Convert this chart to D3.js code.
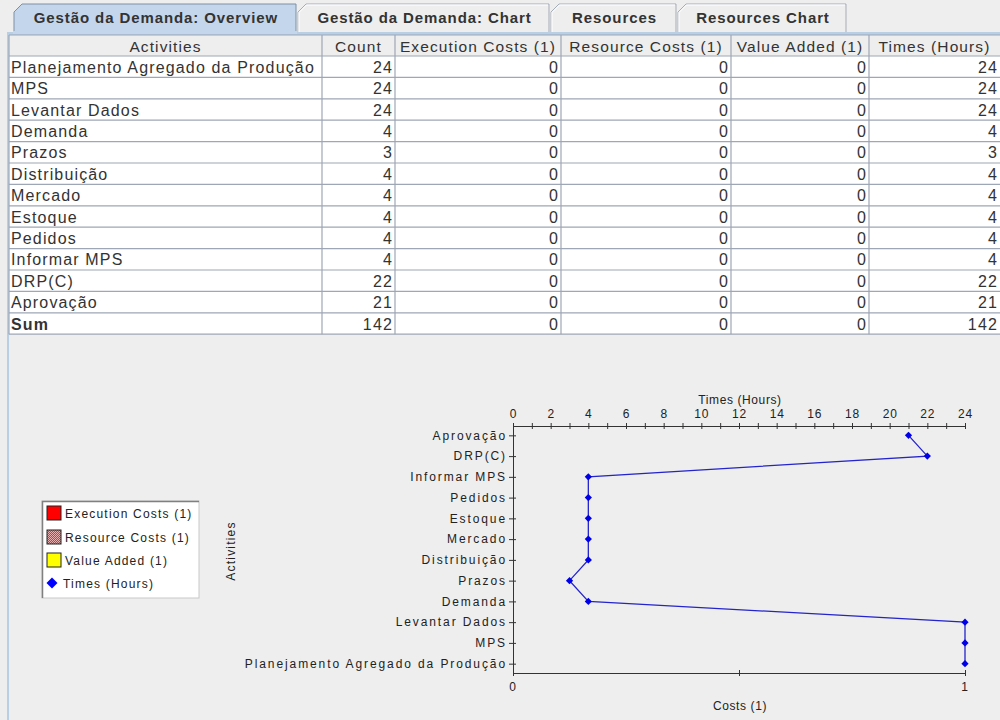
<!DOCTYPE html>
<html>
<head>
<meta charset="utf-8">
<script src="https://cdn.jsdelivr.net/npm/d3@7"></script>
<style>
  body { margin: 0; background: #eeeeee; }
  svg { display: block; }
</style>
</head>
<body>
<svg id="chart" width="1000" height="720"></svg>
<script>
// data
const tabs = ["Gestão da Demanda: Overview", "Gestão da Demanda: Chart", "Resources", "Resources Chart"];
const columns = ["Activities", "Count", "Execution Costs (1)", "Resource Costs (1)", "Value Added (1)", "Times (Hours)"];
const activities = ["Planejamento Agregado da Produção", "MPS", "Levantar Dados", "Demanda", "Prazos",
    "Distribuição", "Mercado", "Estoque", "Pedidos", "Informar MPS", "DRP(C)", "Aprovação"];
const counts = [24, 24, 24, 4, 3, 4, 4, 4, 4, 4, 22, 21];
const execCosts = [0, 0, 0, 0, 0, 0, 0, 0, 0, 0, 0, 0];
const resourceCosts = [0, 0, 0, 0, 0, 0, 0, 0, 0, 0, 0, 0];
const valueAdded = [0, 0, 0, 0, 0, 0, 0, 0, 0, 0, 0, 0];
const times = [24, 24, 24, 4, 3, 4, 4, 4, 4, 4, 22, 21];
const timeTicks = [0, 1, 2, 3, 4, 5, 6, 7, 8, 9, 10, 11, 12, 13, 14, 15, 16, 17, 18, 19, 20, 21, 22, 23, 24];
const timeLabels = [0, 2, 4, 6, 8, 10, 12, 14, 16, 18, 20, 22, 24];
const costTicks = [0, 0.5, 1];
const costLabels = [0, 1];
const legendItems = ["Execution Costs (1)", "Resource Costs (1)", "Value Added (1)", "Times (Hours)"];

const font = "'Liberation Sans', Arial, sans-serif";
const svg = d3.select("#chart");

// patterned fill for resource costs
const defs = svg.append("defs");
const pat = defs.append("pattern").attr("id", "stipple")
    .attr("width", 2).attr("height", 2).attr("patternUnits", "userSpaceOnUse");
pat.append("rect").attr("width", 2).attr("height", 2).attr("fill", "#e8b0b0");
pat.append("rect").attr("width", 1).attr("height", 1).attr("fill", "#b04848");
pat.append("rect").attr("x", 1).attr("y", 1).attr("width", 1).attr("height", 1).attr("fill", "#b04848");

svg.append("rect").attr("width", 1000).attr("height", 720).attr("fill", "#eeeeee");

// ---- tabs ----
const tabX = [14, 298, 551, 678];
const tabW = [282, 251, 125, 168];
const tabG = svg.append("g");
tabs.forEach((t, i) => {
    const x0 = tabX[i], x1 = tabX[i] + tabW[i];
    const sel = i === 0;
    tabG.append("path")
        .attr("d", `M${x0},33 V12 L${x0 + 8},4 H${x1} V33`)
        .attr("fill", sel ? "#c4d6ec" : "#eeeeee")
        .attr("stroke", sel ? "#7d8fa6" : "#a5adb8")
        .attr("stroke-width", 1);
    if (!sel) {
        tabG.append("path")
            .attr("d", `M${x0 + 1},32 V12.5 L${x0 + 8.5},5 H${x1 - 1}`)
            .attr("fill", "none").attr("stroke", "#ffffff");
    }
    tabG.append("text")
        .attr("x", x0 + tabW[i] / 2 + 1).attr("y", 23)
        .attr("text-anchor", "middle")
        .attr("font-family", font).attr("font-size", 15).attr("font-weight", "bold")
        .attr("letter-spacing", "0.9px")
        .attr("fill", "#333333")
        .text(t);
});
// content border under tabs and down the left side
svg.append("rect").attr("x", 7).attr("y", 32).attr("width", 993).attr("height", 3).attr("fill", "#b8cfe5");
svg.append("rect").attr("x", 13).attr("y", 31).attr("width", 284).attr("height", 3).attr("fill", "#c4d6ec");
svg.append("rect").attr("x", 7).attr("y", 32).attr("width", 2).attr("height", 688).attr("fill", "#b8cfe5");

// ---- table ----
const colX = [9, 322, 395, 561, 731, 869, 1000];
const headerY = 35, headerH = 21, rowH = 21.4;
const rows = activities.map((a, i) => [a, counts[i], execCosts[i], resourceCosts[i], valueAdded[i], times[i]]);
rows.push(["Sum", d3.sum(counts), d3.sum(execCosts), d3.sum(resourceCosts), d3.sum(valueAdded), d3.sum(times)]);

const rowY = d3.scaleBand()
    .domain(d3.range(rows.length))
    .range([headerY + headerH, headerY + headerH + rowH * rows.length]);

const table = svg.append("g").attr("font-family", font).attr("font-size", 16).attr("fill", "#333333");
table.append("rect").attr("x", colX[0]).attr("y", headerY)
    .attr("width", 1000 - colX[0]).attr("height", headerH).attr("fill", "#eeeeee");
table.append("rect").attr("x", colX[0]).attr("y", rowY(0))
    .attr("width", 1000 - colX[0]).attr("height", rowH * rows.length).attr("fill", "#ffffff");

const gridColor = "#9ea7b5";
// horizontal lines
const hLines = [headerY].concat(d3.range(rows.length + 1).map(i => headerY + headerH + i * rowH));
table.selectAll("line.h").data(hLines).join("line").attr("class", "h")
    .attr("x1", colX[0]).attr("x2", 1000).attr("y1", d => d).attr("y2", d => d)
    .attr("stroke", gridColor).attr("stroke-width", 1.2);
// vertical lines
table.selectAll("line.v").data(colX.slice(0, -1)).join("line").attr("class", "v")
    .attr("x1", d => d).attr("x2", d => d)
    .attr("y1", headerY).attr("y2", headerY + headerH + rowH * rows.length)
    .attr("stroke", gridColor).attr("stroke-width", 1.2);

// header texts
table.selectAll("text.head").data(columns).join("text").attr("class", "head")
    .attr("x", (d, j) => (colX[j] + colX[j + 1]) / 2)
    .attr("y", headerY + headerH / 2 + 6)
    .attr("text-anchor", "middle")
    .attr("font-size", 15.5)
    .attr("letter-spacing", "1.1px")
    .text(d => d);

// body
const rowG = table.selectAll("g.row").data(rows).join("g").attr("class", "row")
    .attr("transform", (d, i) => `translate(0,${rowY(i) + rowH / 2 + 6})`);
rowG.selectAll("text").data((d, i) => d.map(v => ({ v, last: i === rows.length - 1 }))).join("text")
    .attr("x", (d, j) => j === 0 ? colX[0] + 2 : colX[j + 1] - 2)
    .attr("text-anchor", (d, j) => j === 0 ? "start" : "end")
    .attr("font-weight", (d, j) => d.last && j === 0 ? "bold" : null)
    .attr("letter-spacing", "1.15px")
    .text(d => d.v);

// ---- chart ----
const x = d3.scaleLinear().domain([0, 24]).range([513, 965]);
const xc = d3.scaleLinear().domain([0, 1]).range([513, 965]);
const y = d3.scalePoint().domain(activities.slice().reverse()).range([426, 673]).padding(0.45);
const axisFont = g => g.attr("font-family", font).attr("font-size", 12)
    .call(g => g.selectAll("text").attr("fill", "#222").attr("letter-spacing", "1.9px"))
    .call(g => g.selectAll("line,path").attr("stroke", "#333"));

// cost bars (all zero)
const band = 20.7 / 4;
const costSeries = [execCosts, resourceCosts, valueAdded];
const costFill = ["#ff0000", "url(#stipple)", "#ffff00"];
const bars = svg.append("g");
costSeries.forEach((s, k) => {
    bars.selectAll("rect.s" + k).data(activities).join("rect").attr("class", "s" + k)
        .attr("x", xc(0))
        .attr("y", d => y(d) - 1.5 * band + k * band)
        .attr("width", (d, i) => xc(s[i]) - xc(0))
        .attr("height", band)
        .attr("fill", costFill[k]).attr("stroke", "none");
});

// top axis: times
svg.append("g").attr("transform", "translate(0,426)")
    .call(d3.axisTop(x).tickValues(timeTicks).tickSize(3).tickSizeOuter(0).tickPadding(5)
        .tickFormat(d => timeLabels.includes(d) ? d : ""))
    .call(axisFont)
    .call(g => g.selectAll(".tick text").attr("letter-spacing", "0.8px"))
    .call(g => g.selectAll(".tick line").attr("y1", 3));

// left axis: activities
svg.append("g").attr("transform", "translate(513,0)")
    .call(d3.axisLeft(y).tickSize(4).tickSizeOuter(0).tickPadding(2))
    .call(axisFont)
    .call(g => g.selectAll(".tick line").attr("x1", 3));

// bottom axis: costs
svg.append("g").attr("transform", "translate(0,673)")
    .call(d3.axisBottom(xc).tickValues(costTicks).tickSize(3).tickSizeOuter(0).tickPadding(6)
        .tickFormat(d => costLabels.includes(d) ? d : ""))
    .call(axisFont)
    .call(g => g.selectAll(".tick line").attr("y1", -3));

// axis titles
const title = (txt, tx, ty, rot) => svg.append("text")
    .attr("transform", `translate(${tx},${ty})` + (rot ? " rotate(-90)" : ""))
    .attr("text-anchor", "middle")
    .attr("font-family", font).attr("font-size", 12)
    .attr("letter-spacing", rot ? "1.2px" : "0.6px")
    .attr("fill", "#222")
    .text(txt);
title("Times (Hours)", 740, 404, false);
title("Costs (1)", 740, 710, false);
title("Activities", 235, 551, true);

// times line
const pts = activities.map((a, i) => ({ name: a, t: times[i] })).reverse();
svg.append("path").datum(pts)
    .attr("fill", "none").attr("stroke", "#2424cc").attr("stroke-width", 1.3)
    .attr("d", d3.line().x(d => x(d.t)).y(d => y(d.name)));
svg.selectAll("path.mark").data(pts).join("path").attr("class", "mark")
    .attr("transform", d => `translate(${x(d.t)},${y(d.name)}) rotate(45)`)
    .attr("d", d3.symbol(d3.symbolSquare, 26))
    .attr("fill", "#0000e6");

// ---- legend ----
const lg = svg.append("g").attr("transform", "translate(42,501)");
lg.append("rect").attr("width", 157).attr("height", 97).attr("fill", "#ffffff").attr("stroke", "#c8c8c8");
lg.append("path").attr("d", "M0.5,97 V0.5 H157").attr("fill", "none").attr("stroke", "#808080").attr("stroke-width", 1.5);
const legRowY = [12, 36, 59, 82];
const item = lg.selectAll("g.item").data(legendItems).join("g").attr("class", "item")
    .attr("transform", (d, i) => `translate(0,${legRowY[i]})`);
item.filter((d, i) => i < 3).append("rect")
    .attr("x", 5).attr("y", -7).attr("width", 14).attr("height", 14)
    .attr("fill", (d, i) => costFill[i]).attr("stroke", "#222");
item.filter((d, i) => i === 3).append("path")
    .attr("transform", "translate(10,0) rotate(45)")
    .attr("d", d3.symbol(d3.symbolSquare, 60))
    .attr("fill", "#0000ff");
item.append("text")
    .attr("x", (d, i) => i === 3 ? 21 : 23).attr("y", 4.5)
    .attr("font-family", font).attr("font-size", 12)
    .attr("letter-spacing", "1.2px")
    .attr("fill", "#222")
    .text(d => d);
</script>
</body>
</html>
